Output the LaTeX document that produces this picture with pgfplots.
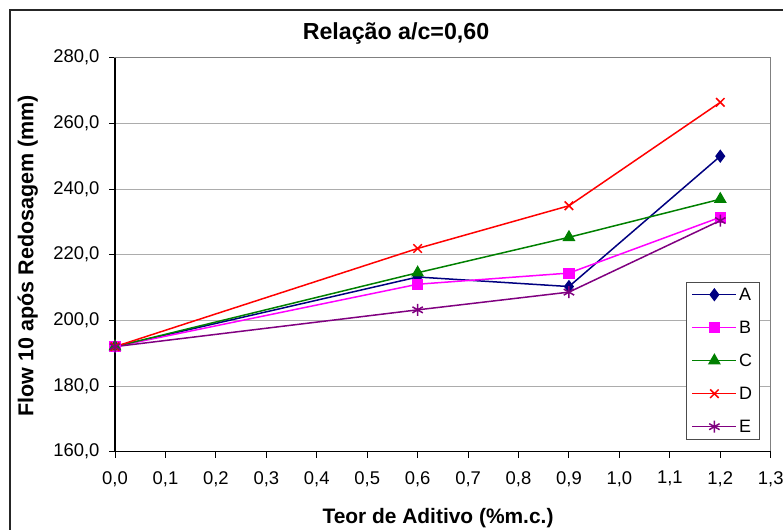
\documentclass[border=0pt]{standalone}
\usepackage{pgfplots}
\pgfplotsset{compat=1.18}
\usepackage{fontspec}
\setmainfont{Liberation Sans}
\definecolor{cA}{RGB}{0,0,128}
\definecolor{cB}{RGB}{255,0,255}
\definecolor{cC}{RGB}{0,128,0}
\definecolor{cD}{RGB}{255,0,0}
\definecolor{cE}{RGB}{128,0,128}
\begin{document}
\begin{tikzpicture}[x=1bp,y=1bp]
\useasboundingbox (0,0) rectangle (783,530);
\draw[line width=1.5bp,black!85] (10,-5) -- (10,520) -- (790,520);
\begin{axis}[
  at={(115bp,78.3bp)}, anchor=south west, scale only axis,
  width=655.7bp, height=394bp,
  xmin=0, xmax=1.3, ymin=160, ymax=280,
  xtick={0,0.1,0.2,0.3,0.4,0.5,0.6,0.7,0.8,0.9,1.0,1.1,1.2,1.3},
  ytick={160,180,200,220,240,260,280},
  /pgf/number format/fixed, /pgf/number format/fixed zerofill,
  /pgf/number format/precision=1, /pgf/number format/use comma,
  /pgf/number format/assume math mode=true,
  tick label style={font=\fontsize{18.5}{20}\selectfont},
  yticklabel style={xshift=-6bp},
  xticklabel style={yshift=-10bp},
  tick align=outside, major tick length=6bp,
  xtick pos=left, ytick pos=left,
  tick style={black, line width=1bp},
  axis line style={gray, line width=1.2bp},
  ymajorgrids, grid style={gray!65, line width=1bp},
  clip=false,
  legend style={at={(0.871,0.4315)}, anchor=north west,
    draw=gray!60!black, line width=1bp, fill=white,
    font=\fontsize{18}{20}\selectfont,
    inner xsep=5bp, inner ysep=4bp, row sep=16bp,
    nodes={inner sep=2bp, text height=12bp, text depth=1bp},
    cells={anchor=west}},
  legend image code/.code={\draw[mark repeat=2,mark phase=2] plot coordinates {(0bp,0bp)(22bp,0bp)(44bp,0bp)};},
  every axis plot/.append style={line width=1.5bp},
]
\draw[black, line width=1.2bp] (rel axis cs:0,1) -- (rel axis cs:0,0) -- (rel axis cs:1,0);
\addplot[cA, mark=diamond*, mark size=5.5bp] coordinates {(0,192) (0.6,213.2) (0.9,210.3) (1.2,250.0)};
\addlegendentry{A}
\addplot[cB, mark=square*, mark size=4.8bp] coordinates {(0,192) (0.6,211.0) (0.9,214.4) (1.2,231.4)};
\addlegendentry{B}
\addplot[cC, mark=triangle*, mark size=6bp] coordinates {(0,192) (0.6,214.5) (0.9,225.3) (1.2,236.9)};
\addlegendentry{C}
\addplot[cD, mark=x, mark size=6bp] coordinates {(0,192) (0.6,221.9) (0.9,234.9) (1.2,266.4)};
\addlegendentry{D}
\addplot[cE, mark=asterisk, mark size=6bp] coordinates {(0,192) (0.6,203.2) (0.9,208.6) (1.2,230.4)};
\addlegendentry{E}
\end{axis}
\node[anchor=base, inner sep=0pt, font=\fontsize{23.3}{26}\selectfont\bfseries] at (396,490) {Relação a/c=0,60};
\node[anchor=base, inner sep=0pt, font=\fontsize{21}{24}\selectfont\bfseries] at (438,6.7) {Teor de Aditivo (\%m.c.)};
\node[anchor=base west, rotate=90, inner sep=0pt, font=\fontsize{21.6}{24}\selectfont\bfseries] at (33.3,113.3) {Flow 10 após Redosagem (mm)};
\end{tikzpicture}
\end{document}
